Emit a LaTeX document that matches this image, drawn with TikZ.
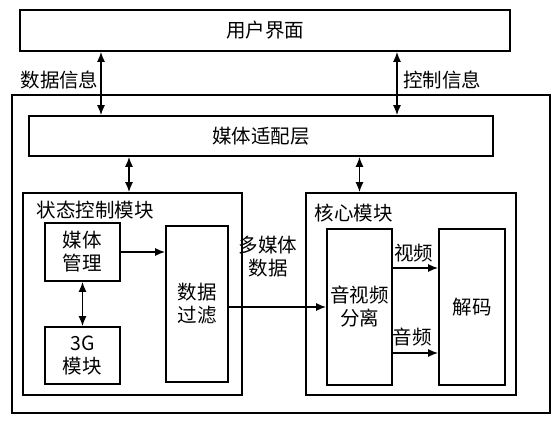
\documentclass[tikz,border=0pt]{standalone}
\usepackage{fontspec}
\setmainfont{Noto Sans CJK SC}
\usetikzlibrary{
    positioning,
    arrows.meta
    }

\begin{document}
\begin{tikzpicture}[x=1pt, y=1pt, font=\fontsize{19.5}{23}\selectfont]
\tikzset{block/.style =
        {
            rectangle,
            draw,
            line width=1.6pt,
            inner sep=0pt,
            align=center
        }
}

\tikzset{flow/.style =
        {
            line width=1.6pt,
            -{Latex[length=10pt, width=8pt]}
        }
}

\tikzset{both/.style =
        {
            flow,
            {Latex[length=10pt, width=8pt]}-{Latex[length=10pt, width=8pt]}
        }
}

\tikzset{tag/.style = { inner sep=0pt, align=center } }

		\useasboundingbox (0,0) rectangle (558,421);

		\foreach \name / \x / \y / \w / \h / \txt in
			{system/281/167/538/318/{},
				ui/265/390.5/490/41/用户界面,
				adapt/261/285/464/40/媒体适配层,
				state/132.5/127/219/202/{},
				core/411/127/210/202/{},
				mgmt/82.5/169/75/58/{媒体\\管理},
				threeg/82.5/65.5/75/57/{3G\\模块},
				filter/197/117/62/156/{数据\\过滤},
				avsplit/359.5/114/65/156/{音视频\\分离},
				decode/472/114/66/156/解码}
		\node[block, minimum width=\w pt, minimum height=\h pt] at (\x,\y) (\name) {\txt};

		\node[tag] at (59.5,341) (datainfo) {数据信息};
		\node[tag] at (442,341) (ctrlinfo) {控制信息};
		\node[tag] at (95.5,211) (statelabel) {状态控制模块};
		\node[tag] at (353.5,208) (corelabel) {核心模块};
		\node[tag] at (268,164.5) (mmdata) {多媒体\\数据};
		\node[tag] at (413.5,168) (videolabel) {视频};
		\node[tag] at (412,84) (audiolabel) {音频};

		\coordinate (dataline) at (101,0);
		\coordinate (ctrlline) at (397,0);
		\coordinate (stateline) at (129,0);
		\coordinate (videoline) at (0,153);
		\coordinate (audioline) at (0,68);

		\draw [both] (ui.south -| dataline) -- (adapt.north -| dataline);
		\draw [both] (ui.south -| ctrlline) -- (adapt.north -| ctrlline);
		\draw [both] (adapt.south -| stateline) -- (state.north -| stateline);
		\draw [both] (adapt.south -| avsplit) -- (core.north -| avsplit);
		\draw [both] (mgmt.south) -- (threeg.north);

		\draw [flow] (mgmt.east) -- (mgmt.east -| filter.west);
		\draw [flow] (filter.east |- avsplit) -- (avsplit.west);
		\foreach \line in {videoline, audioline}
		{
			\draw [flow] (avsplit.east |- \line) -- (decode.west |- \line);
		}

\end{tikzpicture}
\end{document}
